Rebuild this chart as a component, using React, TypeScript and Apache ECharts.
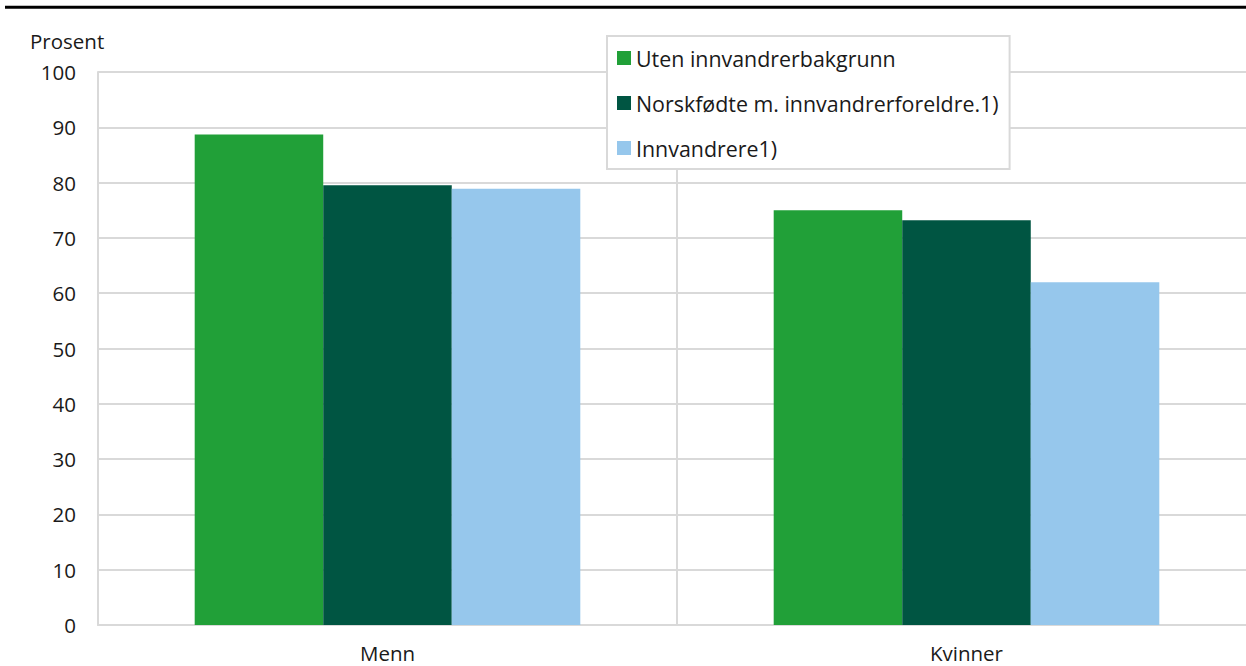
import React, { useEffect, useRef } from "react";
import * as echarts from "echarts";

const categories = ["Menn", "Kvinner"];
const seriesNames = [
  "Uten innvandrerbakgrunn",
  "Norskfødte m. innvandrerforeldre.1)",
  "Innvandrere1)",
];
const utenValues = [88.7, 75.0];
const norskfodteValues = [79.5, 73.2];
const innvandrereValues = [78.9, 62.0];
const seriesColors = ["#21a038", "#005542", "#96c7ec"];

const FONT = "'Open Sans', 'Noto Sans', sans-serif";
const FS = 20.5;
const LEGEND_FS = 21.4;

export default function App() {
  const ref = useRef<HTMLDivElement>(null);
  useEffect(() => {
    if (!ref.current) return;
    const chart = echarts.init(ref.current, null, { renderer: "svg" });
    const values = [utenValues, norskfodteValues, innvandrereValues];
    chart.setOption({
      animation: false,
      textStyle: { fontFamily: FONT },
      grid: { left: 98, right: 2, top: 72, bottom: 41, containLabel: false },
      legend: {
        orient: "vertical",
        left: 607,
        top: 36,
        padding: [11, 11, 10, 10],
        itemWidth: 14,
        itemHeight: 14,
        itemGap: 23,
        icon: "rect",
        backgroundColor: "#ffffff",
        borderColor: "#d9d9d9",
        borderWidth: 2,
        borderRadius: 0,
        textStyle: { fontSize: LEGEND_FS, color: "#1a1a1a", fontFamily: FONT, lineHeight: 22 },
        data: seriesNames,
      },
      xAxis: {
        type: "category",
        data: categories,
        axisLine: { show: true, lineStyle: { color: "#d9d9d9", width: 2 } },
        axisTick: { show: false },
        splitLine: { show: true, lineStyle: { color: "#d9d9d9", width: 2 } },
        axisLabel: { fontSize: FS, color: "#1a1a1a", margin: 17, fontFamily: FONT },
      },
      yAxis: {
        type: "value",
        min: 0,
        max: 100,
        interval: 10,
        axisLine: { show: true, lineStyle: { color: "#d9d9d9", width: 2 } },
        axisTick: { show: false },
        splitLine: { show: true, lineStyle: { color: "#d9d9d9", width: 2 } },
        axisLabel: { fontSize: FS, color: "#1a1a1a", margin: 22, fontFamily: FONT },
      },
      graphic: [
        {
          type: "line",
          shape: { x1: 5, y1: 7.3, x2: 1246, y2: 7.3 },
          style: { stroke: "#000000", lineWidth: 3 },
        },
        {
          type: "text",
          left: 30,
          top: 30,
          style: { text: "Prosent", fontSize: FS, fill: "#1a1a1a", fontFamily: FONT },
        },
      ],
      series: seriesNames.map((name, i) => ({
        name,
        type: "bar",
        data: values[i],
        barGap: "0%",
        barCategoryGap: "33.4%",
        itemStyle: { color: seriesColors[i] },
        z: 2,
      })),
    });
    return () => chart.dispose();
  }, []);
  return (
    <div
      style={{ position: "absolute", left: 0, top: 0, width: 1246, height: 666, overflow: "hidden", background: "#fff" }}
    >
      <div ref={ref} style={{ width: 1258, height: 666 }} />
    </div>
  );
}
